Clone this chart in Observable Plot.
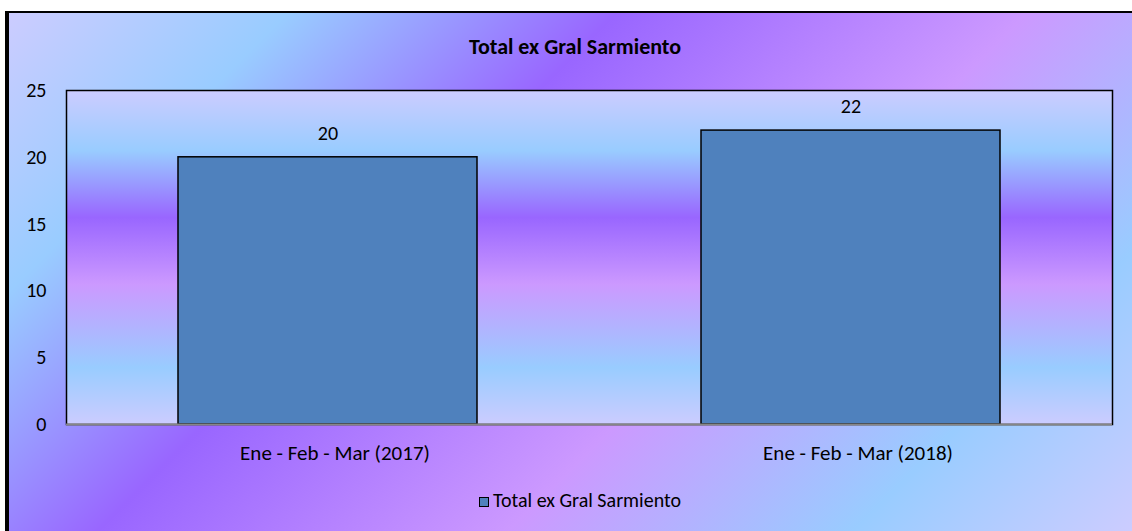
<!DOCTYPE html>
<html>
<head>
<meta charset="utf-8">
<script src="https://cdn.jsdelivr.net/npm/d3@7"></script>
<script src="https://cdn.jsdelivr.net/npm/@observablehq/plot@0.6"></script>
<style>
  html, body { margin: 0; padding: 0; background: #ffffff; width: 1132px; height: 531px; overflow: hidden; }
  #frame {
    position: absolute; left: 5px; top: 11px; width: 1123px; height: 518px;
    border-top: 2px solid #000; border-left: 4px solid #000;
    background: linear-gradient(135deg, #ccccff 0%, #99ccff 17%, #9966ff 37%, #cc99ff 62%, #99ccff 83%, #ccccff 100%);
  }
  .txt { font-family: Carlito, Calibri, "Open Sans", sans-serif; color: #000; }
  #title { position: absolute; left: 0; top: 36px; width: 1150px; text-align: center; font-weight: bold; font-size: 22px; line-height: 22px; }
  #legend { position: absolute; left: 0; top: 489px; width: 1160px; text-align: center; font-size: 20px; line-height: 22px; }
  #legend .sw { display: inline-block; width: 8px; height: 8px; background: #4f81bd; border: 1.5px solid #000; margin-right: 4px; vertical-align: 0px; }
  #chart { position: absolute; left: 0; top: 60px; }
</style>
</head>
<body>
<div id="frame"></div>
<div id="title" class="txt">Total ex Gral Sarmiento</div>
<div id="chart"></div>
<div id="legend" class="txt"><span class="sw"></span>Total ex Gral Sarmiento</div>
<script>
const categories = ["Ene - Feb - Mar (2017)", "Ene - Feb - Mar (2018)"];
const values = [20, 22];
const yTicks = [0, 5, 10, 15, 20, 25];
const seriesName = "Total ex Gral Sarmiento";

const data = categories.map((c, i) => ({category: c, value: values[i]}));

const svg = Plot.plot({
  width: 1132,
  height: 430,
  marginLeft: 66,
  marginRight: 20,
  marginTop: 30,
  marginBottom: 66,
  style: {background: "transparent", fontFamily: "Carlito, Calibri, 'Open Sans', sans-serif", fontSize: "20px", color: "#000", overflow: "visible"},
  x: {domain: categories, paddingInner: 0.428, paddingOuter: 0.214, label: null},
  y: {domain: [0, 25], ticks: yTicks, label: null},
  marks: [
    Plot.frame({fill: "url(#plotGrad)", stroke: "#000", strokeWidth: 1.5}),
    Plot.barY(data, {x: "category", y: "value", fill: "#4f81bd", stroke: "#000", strokeWidth: 1.5}),
    Plot.ruleY([0], {stroke: "#868686", strokeWidth: 2}),
    Plot.text(data, {x: "category", y: "value", text: d => String(d.value), dy: -24, fill: "#000", fontSize: 20}),
    Plot.axisX({tickSize: 0, tickPadding: 21, dx: 7, fontSize: 21, fill: "#000"}),
    Plot.axisY({ticks: yTicks, tickSize: 0, tickPadding: 20, fontSize: 20, fill: "#000"})
  ]
});

const defs = d3.select(svg).insert("defs", ":first-child");
const g = defs.append("linearGradient").attr("id", "plotGrad").attr("x1", 0).attr("y1", 0).attr("x2", 0).attr("y2", 1);
[[0, "#ccccff"], [0.18, "#99ccff"], [0.38, "#9966ff"], [0.58, "#cc99ff"], [0.83, "#99ccff"], [1, "#ccccff"]]
  .forEach(([o, c]) => g.append("stop").attr("offset", o).attr("stop-color", c));

document.getElementById("chart").appendChild(svg);
</script>
</body>
</html>
